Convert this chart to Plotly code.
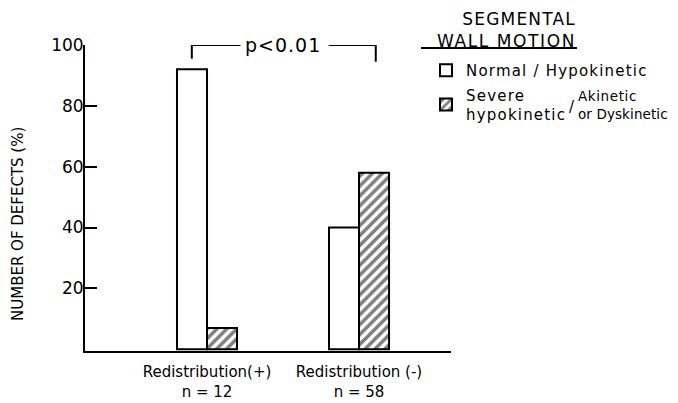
import plotly.graph_objects as go

categories = ["Redistribution(+)<br>n = 12", "Redistribution (-)<br>n = 58"]
normal_hypo = [92, 40]
severe_akinetic = [7, 58]
series_names = ["Normal / Hypokinetic", "Severe<br>hypokinetic"]
y_ticks = [20, 40, 60, 80, 100]

FONT = "DejaVu Sans"
# plot area in page pixels (page has an 8px body margin)
OFF = 8
L, R, T, B = 85, 451, 45, 351
W, H = 670, 395


def xp(px):
    return (px - L) / (R - L)


def yp(py):
    return (B - py) / (B - T)


def sp(text, ls=1.2):
    return f'<span style="letter-spacing:{ls}px">{text}</span>'


fig = go.Figure()
fig.add_trace(go.Bar(
    x=categories, y=normal_hypo, name=sp(series_names[0]), legendgroup="a",
    marker=dict(color="white", line=dict(color="black", width=2)),
))
fig.add_trace(go.Bar(
    x=categories, y=severe_akinetic, name=sp(series_names[1]), legendgroup="b",
    marker=dict(color="white", line=dict(color="black", width=2),
                pattern=dict(shape="/", fgcolor="black", bgcolor="white",
                             size=7, solidity=0.5)),
))

fig.update_layout(
    width=W, height=H,
    margin=dict(l=L - OFF, r=W - (R - OFF), t=T - OFF, b=H - (B - OFF)),
    paper_bgcolor="white", plot_bgcolor="white",
    barmode="group", bargap=0.605, bargroupgap=0,
    font=dict(family=FONT, color="black", size=14),
    showlegend=True,
    legend=dict(x=xp(426), y=yp(54), xanchor="left", yanchor="top",
                font=dict(size=15), traceorder="grouped", tracegroupgap=2,
                itemwidth=30, bgcolor="rgba(0,0,0,0)"),
    xaxis=dict(range=[-0.8026, 1.605], showline=True, linecolor="black",
               linewidth=2, ticks="", tickfont=dict(size=15), showgrid=False,
               automargin=False, ticklabelstandoff=6),
    yaxis=dict(range=[-0.6, 100], tickvals=y_ticks, ticks="inside", ticklen=12,
               tickwidth=2, tickcolor="black", showline=True, linecolor="black",
               linewidth=2, showgrid=False, zeroline=False, automargin=False,
               tickfont=dict(size=17), ticklabelstandoff=-4),
)

# y-axis title (sits lower than the plot centre in the reference)
fig.add_annotation(xref="paper", yref="paper", x=xp(18), y=yp(224),
                   text="NUMBER OF DEFECTS (%)", textangle=-90, showarrow=False,
                   font=dict(size=15), xanchor="center", yanchor="middle")

# significance bracket
for x0, x1, y0, y1 in [(-0.1, -0.1, 95.5, 100), (-0.1, 0.22, 100, 100),
                       (0.8, 1.11, 100, 100), (1.11, 1.11, 94.5, 100)]:
    fig.add_shape(type="line", xref="x", yref="y", x0=x0, x1=x1, y0=y0, y1=y1,
                  line=dict(color="black", width=2))
fig.add_annotation(xref="x", yref="y", x=0.5, y=100, text=sp("p<0.01", 1.0),
                   showarrow=False, font=dict(size=19), yanchor="middle")

# legend heading
fig.add_annotation(xref="paper", yref="paper", x=xp(577), y=yp(8),
                   text=sp("SEGMENTAL", 1.2) + "<br>" + sp("WALL MOTION", 1.6),
                   showarrow=False, font=dict(size=17), xanchor="right",
                   yanchor="top", align="right", borderpad=0)
fig.add_shape(type="line", xref="paper", yref="paper", x0=xp(421), x1=xp(577),
              y0=yp(48), y1=yp(48), line=dict(color="black", width=2))

# second legend entry continuation
fig.add_annotation(xref="paper", yref="paper", x=xp(572), y=yp(107), text="/",
                   showarrow=False, font=dict(size=15), xanchor="center",
                   yanchor="middle")
fig.add_annotation(xref="paper", yref="paper", x=xp(576), y=yp(105),
                   text=sp("Akinetic", 0.6) + "<br>" + sp("or Dyskinetic", 0.1),
                   showarrow=False, font=dict(size=13.5), xanchor="left",
                   yanchor="middle", align="left")

fig.write_html("out.html")
